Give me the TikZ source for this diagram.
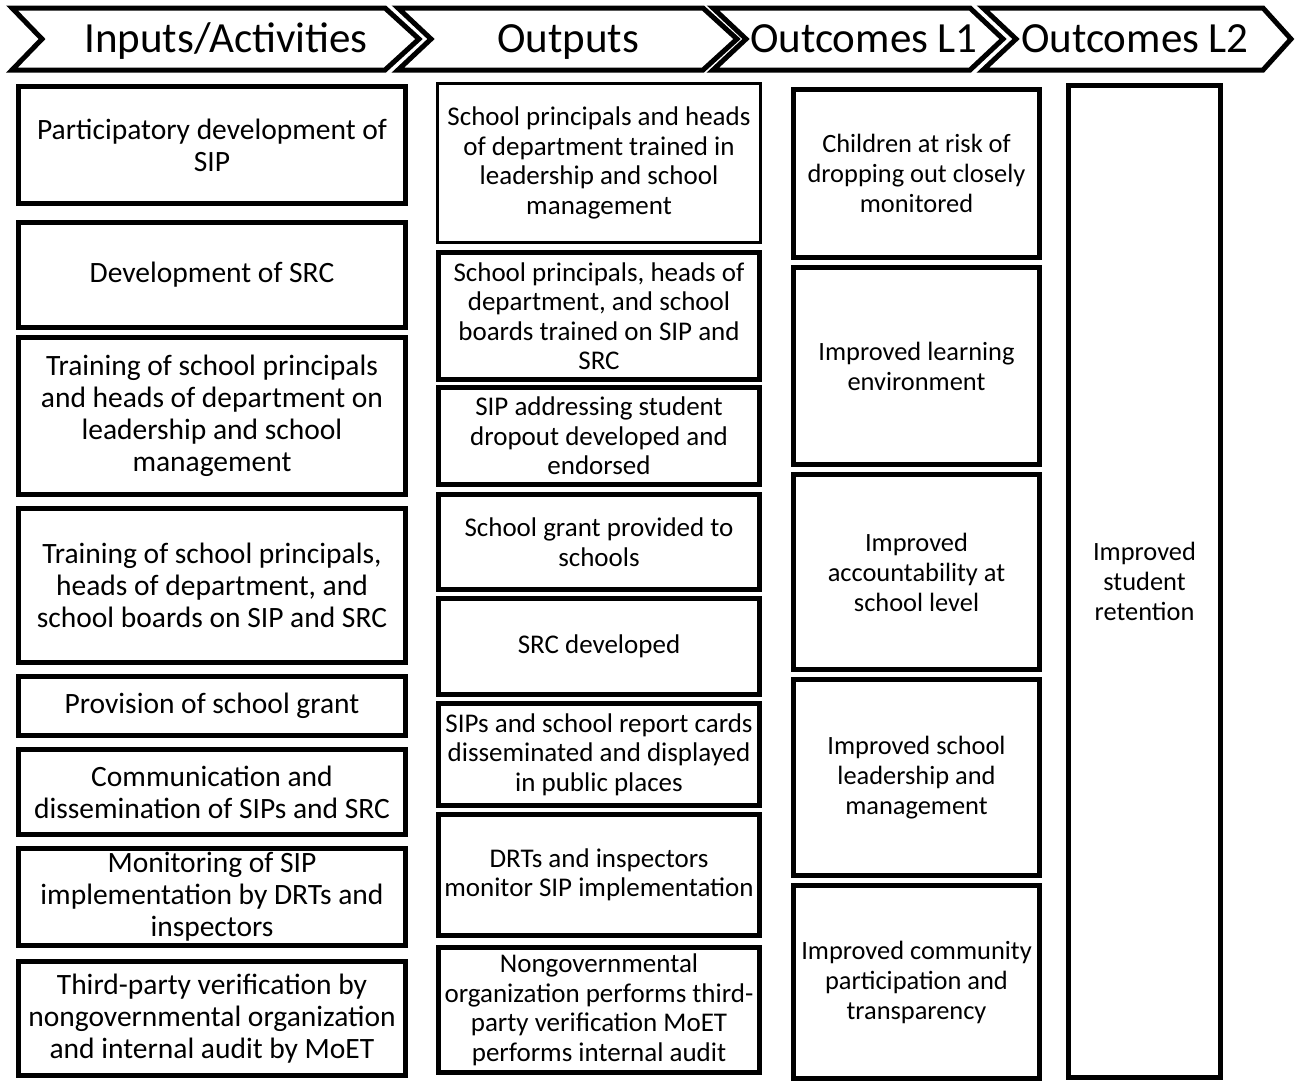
\documentclass[tikz,border=0pt]{standalone}
\usepackage{fontspec}
\setmainfont{Carlito}
\tikzset{
  chev/.style={draw=black, fill=white, line width=5pt, line join=miter},
  htext/.style={font=\fontsize{43}{50}\selectfont, anchor=base, inner sep=0pt},
  abox/.style={draw=black, fill=white, line width=5pt, align=center, inner sep=0pt, anchor=center},
  leftbox/.style={abox, minimum width=387pt, font=\fontsize{29.5}{32}\selectfont},
  midbox/.style={abox, minimum width=321pt, font=\fontsize{27}{29.5}\selectfont},
  rightbox/.style={abox, minimum width=246pt, font=\fontsize{26.4}{30}\selectfont},
}
\begin{document}
\begin{tikzpicture}[x=1pt, y=-1pt]
\useasboundingbox (0,0) rectangle (1296,1080);
% header chevrons
\draw[chev] (12,8) -- (385,8) -- (419,39) -- (385,70) -- (12,70) -- (42,39) -- cycle;
\draw[chev] (398,8) -- (703,8) -- (737,39) -- (703,70) -- (398,70) -- (431,39) -- cycle;
\draw[chev] (713,8) -- (970,8) -- (1003,39) -- (970,70) -- (713,70) -- (746,39) -- cycle;
\draw[chev] (983,8) -- (1263,8) -- (1291,39) -- (1263,70) -- (983,70) -- (1016,39) -- cycle;
\node[htext] (h1) at (226,52) {Inputs/Activities};
\node[htext] (h2) at (568,52) {Outputs};
\node[htext] (h3) at (864,52) {Outcomes L1};
\node[htext] (h4) at (1135,52) {Outcomes L2};
% left column
\node[leftbox, minimum height=117pt] (a1) at (212,145) {Participatory development of\\SIP};
\node[leftbox, minimum height=105pt] (a2) at (212,275) {Development of SRC};
\node[leftbox, minimum height=157pt] (a3) at (212,416) {Training of school principals\\and heads of department on\\leadership and school\\management};
\node[leftbox, minimum height=154pt] (a4) at (212,585.5) {Training of school principals,\\heads of department, and\\school boards on SIP and SRC};
\node[leftbox, minimum height=59pt] (a5) at (212,706) {Provision of school grant};
\node[leftbox, minimum height=85pt] (a6) at (212,792) {Communication and\\dissemination of SIPs and SRC};
\node[leftbox, minimum height=97pt] (a7) at (212,897) {Monitoring of SIP\\implementation by DRTs and\\inspectors};
\node[leftbox, minimum height=114pt] (a8) at (212,1018.5) {Third-party verification by\\nongovernmental organization\\and internal audit by MoET};
% middle column
\node[midbox, line width=2.5pt, minimum width=323pt, minimum height=159pt] (b1) at (599,163) {School principals and heads\\of department trained in\\leadership and school\\management};
\node[midbox, minimum height=127pt] (b2) at (599,316) {School principals, heads of\\department, and school\\boards trained on SIP and\\SRC};
\node[midbox, minimum height=97pt] (b3) at (599,436) {SIP addressing student\\dropout developed and\\endorsed};
\node[midbox, minimum height=95pt] (b4) at (599,542) {School grant provided to\\schools};
\node[midbox, minimum height=96pt] (b5) at (599,646.5) {SRC developed};
\node[midbox, minimum height=102pt] (b6) at (599,754.5) {SIPs and school report cards\\disseminated and displayed\\in public places};
\node[midbox, minimum height=121pt] (b7) at (599,875) {DRTs and inspectors\\monitor SIP implementation};
\node[midbox, minimum height=125pt] (b8) at (599,1010) {Nongovernmental\\organization performs third-\\party verification MoET\\performs internal audit};
% right column
\node[rightbox, minimum height=168pt] (c1) at (916.5,173.5) {Children at risk of\\dropping out closely\\monitored};
\node[rightbox, minimum height=197pt] (c2) at (916.5,366) {Improved learning\\environment};
\node[rightbox, minimum height=195pt] (c3) at (916.5,572) {Improved\\accountability at\\school level};
\node[rightbox, minimum height=196pt] (c4) at (916.5,777.5) {Improved school\\leadership and\\management};
\node[rightbox, minimum height=193pt] (c5) at (916.5,982) {Improved community\\participation and\\transparency};
% outcomes L2
\node[rightbox, minimum width=152pt, minimum height=992pt] (d1) at (1144.5,581.5) {Improved\\student\\retention};
\end{tikzpicture}
\end{document}
